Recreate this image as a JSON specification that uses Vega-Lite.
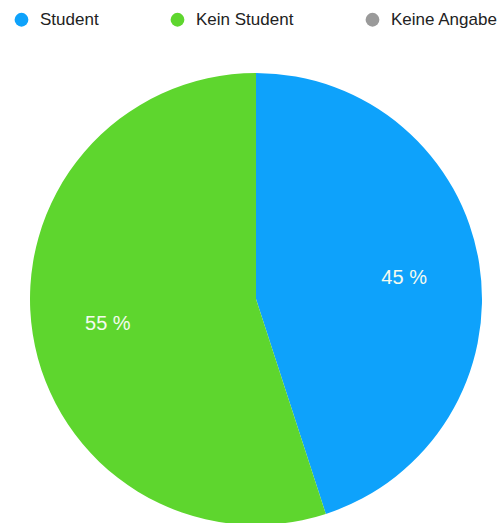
{
  "$schema": "https://vega.github.io/schema/vega-lite/v6.json",
  "width": 512,
  "height": 598,
  "autosize": "none",
  "padding": 0,
  "background": "white",
  "data": {"values": [
    {"group": "Student", "value": 45, "label": "45 %", "order": 1},
    {"group": "Kein Student", "value": 55, "label": "55 %", "order": 2},
    {"group": "Keine Angabe", "value": 0, "label": "0 %", "order": 3}
  ]},
  "encoding": {
    "theta": {"field": "value", "type": "quantitative", "stack": true},
    "order": {"field": "order", "type": "quantitative"},
    "color": {
      "field": "group",
      "type": "nominal",
      "scale": {"domain": ["Student", "Kein Student", "Keine Angabe"], "range": ["#0ea2fb", "#5ed62e", "#9a9a9a"]},
      "legend": {
        "title": null,
        "orient": "none",
        "direction": "horizontal",
        "legendX": 13,
        "legendY": 11,
        "padding": 0,
        "symbolType": "circle",
        "symbolSize": 190,
        "symbolStrokeWidth": 0,
        "labelOffset": 10,
        "labelFont": "Liberation Sans",
        "labelFontSize": 17,
        "labelColor": "#222222",
        "labelLimit": 300,
        "columnPadding": 70
      }
    }
  },
  "layer": [
    {"mark": {"type": "arc", "outerRadius": 226}},
    {
      "transform": [{"filter": "datum.value > 0"}],
      "mark": {"type": "text", "radius": 150, "font": "Liberation Sans", "fontSize": 20, "dy": 2},
      "encoding": {
        "text": {"field": "label"},
        "color": {"value": "#f4fbef"}
      }
    }
  ]
}
